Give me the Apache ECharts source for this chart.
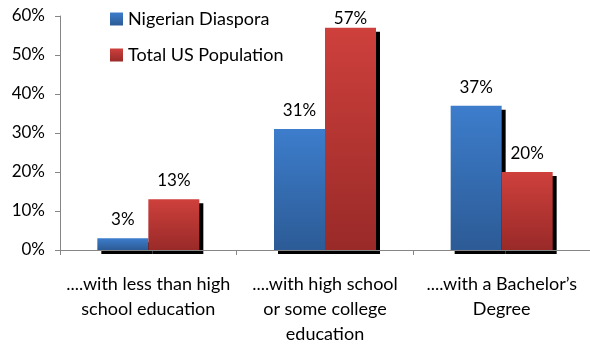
<!DOCTYPE html>
<html>
<head>
<meta charset="utf-8">
<style>
  html, body { margin: 0; padding: 0; background: #fff; }
  #chart { width: 590px; height: 350px; }
</style>
<script src="https://cdn.jsdelivr.net/npm/echarts@6/dist/echarts.min.js"></script>
</head>
<body>
<div id="chart"></div>
<script>
// Education attainment: Nigerian diaspora vs. total US population
const categories = [
  '....with less than high\nschool education',
  '....with high school\nor some college\neducation',
  '....with a Bachelor\u2019s\nDegree'
];
const seriesNames = ['Nigerian Diaspora', 'Total US Population'];
const nigerianDiaspora = [3, 31, 37];
const totalUSPopulation = [13, 57, 20];
const yTicks = [0, 10, 20, 30, 40, 50, 60];

const FONT = 'Lato';
const BLUE = ['#3d7dcc', '#2c5b96'];
const RED = ['#ce403c', '#992a28'];

function grad(c) {
  return new echarts.graphic.LinearGradient(0, 0, 0, 1, [
    { offset: 0, color: c[0] },
    { offset: 1, color: c[1] }
  ]);
}

function barSeries(name, values, c) {
  return {
    name: name,
    type: 'bar',
    barWidth: 51,
    barGap: '0%',
    clip: true,
    data: values.map(v => ({
      value: v,
      label: { distance: v >= 55 ? 1 : 10 }
    })),
    itemStyle: {
      color: grad(c),
      shadowColor: '#000',
      shadowOffsetX: 4,
      shadowOffsetY: 4,
      shadowBlur: 0
    },
    label: {
      show: true,
      position: 'top',
      formatter: '{c}%',
      color: '#000',
      fontFamily: FONT,
      fontSize: 17
    }
  };
}

const noShadow = { shadowBlur: 0, shadowOffsetX: 0, shadowOffsetY: 0, shadowColor: 'transparent' };

const chart = echarts.init(document.getElementById('chart'));
chart.setOption({
  animation: false,
  backgroundColor: '#fff',
  textStyle: { fontFamily: FONT },
  legend: {
    orient: 'vertical',
    left: 105,
    top: 5,
    itemWidth: 13,
    itemHeight: 13,
    itemGap: 18,
    icon: 'rect',
    textStyle: { color: '#000', fontSize: 18, fontFamily: FONT },
    data: [
      { name: seriesNames[0], itemStyle: Object.assign({ color: grad(BLUE) }, noShadow) },
      { name: seriesNames[1], itemStyle: Object.assign({ color: grad(RED) }, noShadow) }
    ]
  },
  grid: { left: 60, top: 16, width: 534, height: 234, containLabel: false },
  xAxis: {
    type: 'category',
    data: categories,
    z: 5,
    axisLine: { lineStyle: { color: '#868686', width: 1 } },
    axisTick: { show: true, length: 5, lineStyle: { color: '#868686' } },
    axisLabel: {
      color: '#000',
      fontSize: 18,
      fontFamily: FONT,
      lineHeight: 25,
      margin: 22,
      interval: 0
    }
  },
  yAxis: {
    type: 'value',
    min: yTicks[0],
    max: yTicks[yTicks.length - 1],
    interval: 10,
    splitLine: { show: false },
    axisLine: { show: true, lineStyle: { color: '#868686', width: 1 } },
    axisTick: { show: true, length: 5, lineStyle: { color: '#868686' } },
    axisLabel: {
      color: '#000',
      fontSize: 17,
      fontFamily: FONT,
      margin: 15,
      formatter: '{value}%'
    }
  },
  series: [
    barSeries(seriesNames[0], nigerianDiaspora, BLUE),
    barSeries(seriesNames[1], totalUSPopulation, RED)
  ]
});
</script>
</body>
</html>
